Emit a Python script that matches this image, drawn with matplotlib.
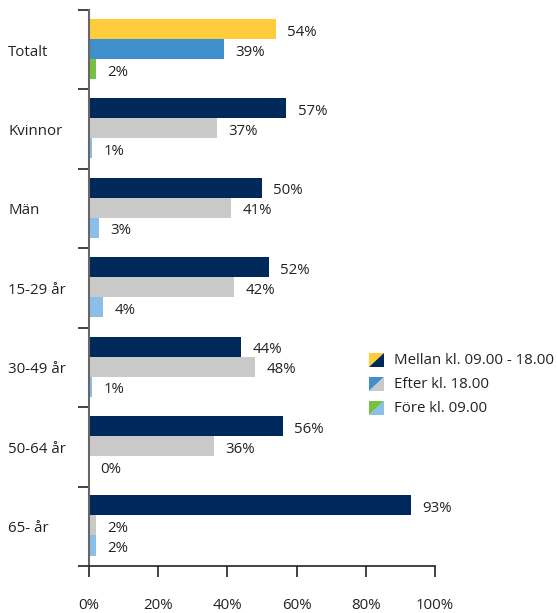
import matplotlib
matplotlib.use("Agg")
import matplotlib.pyplot as plt
import matplotlib.transforms as mtransforms
from matplotlib.patches import Polygon
import numpy as np

plt.rcParams['font.family'] = ['Open Sans', 'DejaVu Sans']

categories = ["Totalt", "Kvinnor", "Män", "15-29 år", "30-49 år", "50-64 år", "65- år"]
mellan = [54, 57, 50, 52, 44, 56, 93]
efter = [39, 37, 41, 42, 48, 36, 2]
fore = [2, 1, 3, 4, 1, 0, 2]
series_names = ["Mellan kl. 09.00 - 18.00", "Efter kl. 18.00", "Före kl. 09.00"]
xticks = [0, 20, 40, 60, 80, 100]
xticklabels = ["0%", "20%", "40%", "60%", "80%", "100%"]

total_colors = ["#FFCD3C", "#3F8FCD", "#77C043"]
group_colors = ["#00295B", "#C9C9C9", "#8BBFE8"]
text_color = "#222222"
fs = 10.8

W, H = 557, 613
fig = plt.figure(figsize=(W / 100, H / 100), dpi=100)
ax = fig.add_axes([89 / W, 1 - 566 / H, (435 - 89) / W, (566 - 10) / H])

n = len(categories)
ax.set_ylim(n, 0)
ax.set_xlim(0, 100)

bar_h = 0.252
offsets = [-bar_h, 0, bar_h]
series = [mellan, efter, fore]
for i, cat in enumerate(categories):
    center = i + 0.5 - 0.01
    for s in range(3):
        val = series[s][i]
        col = total_colors[s] if i == 0 else group_colors[s]
        y = center + offsets[s]
        ax.barh(y, val, height=bar_h, color=col, linewidth=0)
        ax.text(val + 3.3, y + 0.04, f"{val}%", va="center", ha="left",
                fontsize=fs, color=text_color)

# category labels, left aligned at figure x
trans = mtransforms.blended_transform_factory(fig.transFigure, ax.transData)
for i, cat in enumerate(categories):
    ax.text(8 / W, i + 0.53, cat, transform=trans, va="center", ha="left",
            fontsize=fs, color=text_color)

ax.set_yticks(np.arange(0, n + 1))
ax.set_yticklabels([])
ax.tick_params(axis="y", length=8, width=1.2, color="#222222", direction="out")
ax.set_xticks(xticks)
ax.set_xticklabels(xticklabels, fontsize=fs, color=text_color)
ax.tick_params(axis="x", length=8, width=1.2, color="#222222", direction="out", pad=15)

for sp in ["top", "right"]:
    ax.spines[sp].set_visible(False)
ax.spines["left"].set_color("#666666")
ax.spines["left"].set_linewidth(1.5)
ax.spines["bottom"].set_color("#222222")
ax.spines["bottom"].set_linewidth(1.2)

# legend with split squares
leg_colors = list(zip(total_colors, group_colors))
for k, name in enumerate(series_names):
    yc = 360 + 24 * k
    x0, x1 = 369 / W, 384 / W
    y0, y1 = 1 - (yc + 7) / H, 1 - (yc - 7) / H
    c1, c2 = leg_colors[k]
    fig.patches.append(Polygon([(x0, y0), (x0, y1), (x1, y1)], closed=True,
                               facecolor=c1, edgecolor="none", transform=fig.transFigure))
    fig.patches.append(Polygon([(x0, y0), (x1, y1), (x1, y0)], closed=True,
                               facecolor=c2, edgecolor="none", transform=fig.transFigure))
    fig.text(394 / W, 1 - yc / H, name, va="center", ha="left", fontsize=fs, color=text_color)

fig.savefig("out.png", dpi=100)
